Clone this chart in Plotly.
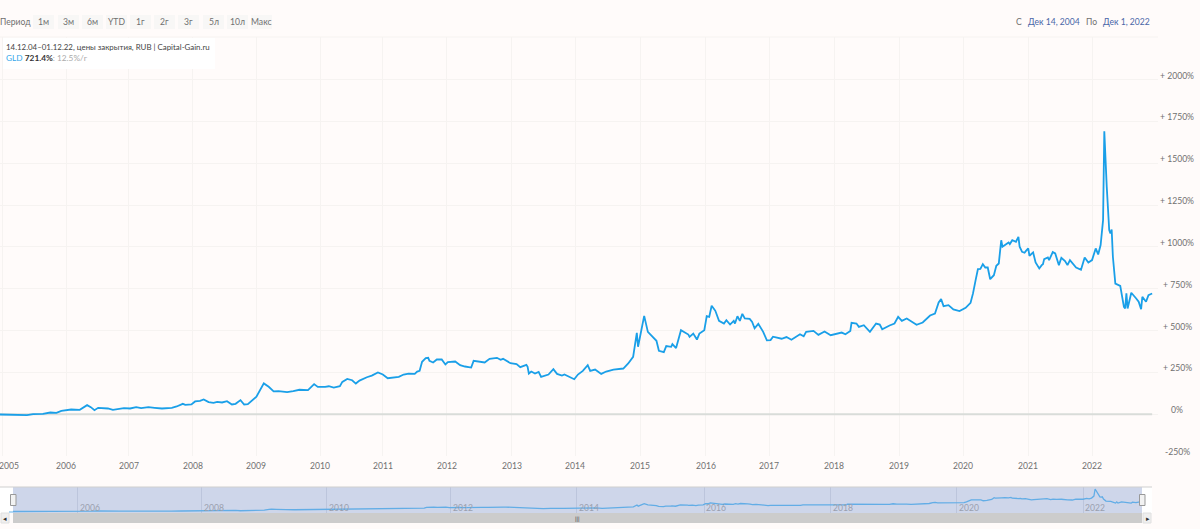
import plotly.graph_objects as go

W, H = 1200, 529

# Ordinal axis: position = number of the weekly quote since Dec 14, 2004
weeks = [0,11,22,27,35,41,46,50,54,58,65,71,74,77,80,84,88,92,96,101,106,111,115,121,126,132,140,144,149,151,156,159,163,166,170,174,177,181,185,189,192,196,199,202,209,213,215,219,223,227,234,239,244,251,256,259,261,
265,268,272,277,279,283,287,290,293,299,303,308,312,316,322,325,329,333,338,340,342,344,347,349,350,353,356,360,363,365,371,375,379,384,386,390,395,399,405,408,410,416,421,424,429,430,431,433,436,439,441,447,451,454,458,460,468,471,475,479,481,485,490,494,500,
508,512,516,519,520,525,528,535,537,541,543,547,548,551,555,561,562,565,568,570,574,576,578,580,583,586,590,592,595,598,599,601,603,605,607,611,613,615,618,622,625,628,630,634,637,641,645,652,655,657,663,667,672,677,686,689,693,694,698,700,704,709,714,717,719,725,729,732,735,739,743,747,752,755,758,762,765,767,769,773,777,782,
787,791,793,795,797,799,801,803,805,807,810,812,814,816,817,822,823,825,828,830,831,833,835,836,838,839,842,844,847,849,850,851,854,855,858,860,863,865,868,870,872,877,881,884,887,890,893,895,897,899,900,902,904,905,906,907,909,913,916,917,918,919,922,926,928,930,931,934,936,939]

gld_pct = [-2,-6,-6,0,2,10,8,20,26,28,26,54,42,24,38,38,34,26,32,36,34,42,36,42,38,34,38,46,62,56,58,76,80,88,72,68,74,70,78,58,62,84,58,60,104,164,184,164,136,138,132,138,146,144,180,163,162,
163,167,159,167,193,211,203,183,201,221,231,249,237,215,223,223,237,243,241,255,259,313,335,337,319,309,327,327,297,311,315,293,285,279,319,313,309,331,337,325,331,305,299,281,295,283,243,255,243,253,223,237,269,241,231,237,209,237,259,293,259,267,241,255,267,
273,303,343,486,403,588,492,439,379,371,407,403,419,395,502,476,462,482,446,482,502,586,582,648,618,558,542,562,536,558,542,586,558,600,572,570,552,514,540,492,441,443,463,458,451,461,445,478,466,492,498,474,494,472,488,478,498,546,542,522,532,492,542,536,508,530,542,582,558,572,552,534,548,572,590,602,668,688,646,652,626,616,
636,666,722,797,867,869,897,877,877,807,831,887,901,1040,1001,1027,1017,1040,1031,1060,1001,971,965,975,991,947,967,907,871,891,897,927,937,921,969,961,891,935,915,891,921,877,863,937,907,921,991,955,1011,1160,1692,1359,1100,1080,1104,941,781,767,642,632,722,632,726,692,672,628,702,672,712,721.4]

year_labels = [str(y) for y in range(2005, 2023)]
year_weeks = [2,54,105,157,209,261,312,364,417,469,522,575,627,680,733,785,838,890]
y_ticks = [-250,0,250,500,750,1000,1250,1500,1750,2000]
y_labels = ["-250%","0%","+ 250%","+ 500%","+ 750%","+ 1000%","+ 1250%","+ 1500%","+ 1750%","+ 2000%"]
buttons = ["1м","3м","6м","YTD","1г","2г","3г","5л","10л","Макс"]
button_edges = [33,58,82,106,130,154,178,203,227,251]

BG = "#fffbfa"; GRID = "#f6f3f1"; TXT = "#707070"; BLUE = "#1a9fe8"; FONT = "Lato"
SMALL = 8.6

def px(x): return x / W
def py(y): return 1 - y / H

fig = go.Figure()
fig.add_trace(go.Scatter(x=[weeks[0], weeks[-1]], y=[0, 0], mode="lines",
                         line=dict(color="#d9dcd9", width=2), hoverinfo="skip", showlegend=False))
fig.add_trace(go.Scatter(x=weeks, y=gld_pct, mode="lines", name="GLD",
                         line=dict(color=BLUE, width=1.8), showlegend=False))
fig.add_trace(go.Scatter(x=weeks, y=gld_pct, mode="lines", xaxis="x2", yaxis="y2",
                         line=dict(color="#62ade6", width=1.3), hoverinfo="skip", showlegend=False))

shapes, ann = [], []
def rect(x0, y0, x1, y1, fill, layer="below", line=None):
    shapes.append(dict(type="rect", xref="paper", yref="paper", x0=px(x0), x1=px(x1), y0=py(y1), y1=py(y0),
                       fillcolor=fill, layer=layer, line=dict(width=1 if line else 0, color=line or fill)))
def text(x, y, s, size=SMALL, color=TXT, anchor="center", **kw):
    ann.append(dict(xref="paper", yref="paper", x=px(x), y=py(y), text=s, showarrow=False, xanchor=anchor,
                    yanchor="middle", font=dict(family=FONT, size=size, color=color), **kw))

# top boundary of the plot
shapes.append(dict(type="line", xref="paper", yref="paper", x0=0, x1=px(1158), y0=py(37), y1=py(37),
                   line=dict(color=GRID, width=1), layer="below"))
# range selector
text(15.5, 22.5, "Период")
for b, e in zip(buttons, button_edges):
    rect(e, 15, e + 21, 29, "#f8f7f6")
    text(e + 10.5, 22.5, b)
# date range
text(1019, 21.5, "С")
text(1053.5, 21.5, "Дек 14, 2004", color="#4a66a8")
text(1091, 21.5, "По")
text(1126, 21.5, "Дек 1, 2022", color="#4a66a8")
# info box
rect(3, 38, 215, 69, "#ffffff", layer="above")
text(3.5, 47.5, "14.12.04–01.12.22, цены закрытия, RUB | Capital-Gain.ru", size=7.9, color="#444444", anchor="left")
text(3.5, 57.5, f"<span style='color:#35a7ea'>GLD</span> <b style='color:#333'>721.4%</b>"
                f"<span style='color:#aaaaaa'>: 12.5%/г</span>", size=8.3, anchor="left")
# y labels
for v, s in zip(y_ticks, y_labels):
    ann.append(dict(xref="paper", yref="y", x=px(1177), y=v, text=s, showarrow=False, xanchor="center",
                    yanchor="middle", yshift=4, font=dict(family=FONT, size=SMALL, color=TXT)))
# x labels
for i, (wk, s) in enumerate(zip(year_weeks, year_labels)):
    ann.append(dict(xref="x", yref="paper", x=wk, y=py(466), text=s, showarrow=False,
                    xanchor="left" if i == 0 else "center", xshift=-5 if i == 0 else 0, yanchor="middle",
                    font=dict(family=FONT, size=SMALL, color=TXT)))
# navigator
rect(0, 487, 13, 513, "#ffffff")
rect(1142, 487, 1152, 513, "#ffffff")
rect(13, 487, 1142, 513, "#ced6ea")
shapes.append(dict(type="line", xref="paper", yref="paper", x0=0, x1=px(1152), y0=py(487), y1=py(487),
                   line=dict(color="#cfcfcf", width=1), layer="above"))
rect(9, 511.2, 13, 512.8, "#9fd0f2")
rect(13, 513, 1142, 523, "#cccccc")
rect(1, 513, 9, 523, "#efefef", line="#e0e0e0")
rect(1143, 513, 1151, 523, "#efefef", line="#e0e0e0")
text(4.5, 518, "◂", size=7, color="#333333")
text(1147.5, 518, "▸", size=7, color="#333333")
text(577, 518, "|||", size=6, color="#333333")
for x0 in (10.5, 1139.5):
    rect(x0, 494.5, x0 + 5.5, 505.5, "#f2f2f2", layer="above", line="#999999")
for wk, s in list(zip(year_weeks, year_labels))[1::2]:
    ann.append(dict(xref="x2", yref="paper", x=wk, y=py(508), text=s, showarrow=False, xanchor="left", xshift=0,
                    yanchor="middle", font=dict(family=FONT, size=SMALL, color="#9aa0ae")))

fig.update_layout(
    width=W, height=H, autosize=False, margin=dict(l=0, r=0, t=0, b=0),
    paper_bgcolor=BG, plot_bgcolor="rgba(0,0,0,0)", showlegend=False, hovermode="x",
    shapes=shapes, annotations=ann,
    xaxis=dict(domain=[0, px(1158)], range=[0, 1158 / 1.227], tickvals=year_weeks, showticklabels=False,
               showgrid=True, gridcolor=GRID, gridwidth=1, zeroline=False, ticks="", anchor="y"),
    yaxis=dict(domain=[py(456), py(37)], range=[-250, 2255], tickvals=y_ticks, showticklabels=False,
               showgrid=True, gridcolor=GRID, gridwidth=1, zeroline=False, ticks="", anchor="x"),
    xaxis2=dict(domain=[px(13), px(1142)], range=[0, 939], tickvals=year_weeks[1::2], showticklabels=False,
                showgrid=True, gridcolor="#bcc5dc", gridwidth=1, zeroline=False, ticks="", anchor="y2"),
    yaxis2=dict(domain=[py(513), py(487)], range=[-113, 1842], showticklabels=False, showgrid=False,
                zeroline=False, ticks="", anchor="x2"),
)
fig.write_html("out.html", config=dict(displayModeBar=False),
               post_script="document.body.style.margin='0';document.body.style.background='#fffbfa';")
